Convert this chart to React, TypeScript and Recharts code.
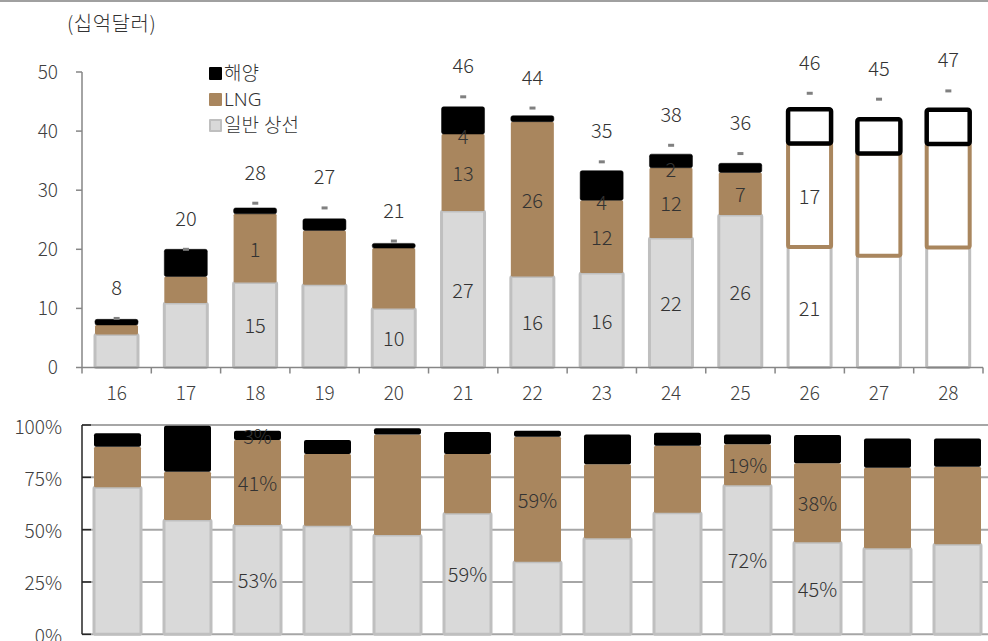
import React from 'react';
import { ComposedChart, Bar, Line, XAxis, YAxis, CartesianGrid, Cell, LabelList } from 'recharts';

const FONT = '"Noto Sans CJK KR", "Noto Sans", sans-serif';
const LEGEND_FONT = '"Noto Sans", "Noto Sans CJK KR", sans-serif';
const GRAY = '#d9d9d9';
const GRAY_EDGE = '#bfbfbf';
const BROWN = '#a9865e';
const BLACK = '#000000';
const TEXT = '#333333';

const years = ['16', '17', '18', '19', '20', '21', '22', '23', '24', '25', '26', '27', '28'];
const forecastYears = ['26', '27', '28'];

// 수주액 (십억달러)
const merchant = [5.6, 10.9, 14.4, 14.0, 10.0, 26.5, 15.4, 16.0, 21.9, 25.8, 20.4, 18.9, 20.3];
const lng = [1.6, 4.5, 11.6, 9.2, 10.2, 13.0, 26.2, 12.3, 11.9, 7.2, 17.5, 17.3, 17.5];
const offshore = [0.95, 4.6, 1.0, 1.95, 0.8, 4.6, 1.0, 5.0, 2.3, 1.55, 5.8, 5.8, 5.8];
const total = [8.3, 20.0, 27.8, 27.0, 21.4, 45.8, 43.9, 34.8, 37.6, 36.2, 46.4, 45.4, 46.8];
const totalLabels = ['8', '20', '28', '27', '21', '46', '44', '35', '38', '36', '46', '45', '47'];
const merchantLabels = ['', '', '15', '', '10', '27', '16', '16', '22', '26', '21', '', ''];
const lngLabels = ['', '', '1', '', '', '13', '26', '12', '12', '7', '17', '', ''];
const offshoreLabels = ['', '', '', '', '', '4', '', '4', '2', '', '', '', ''];

// 비중 (%)
const merchantPct = [70.2, 54.6, 52.2, 51.9, 47.4, 57.8, 34.7, 45.9, 58.1, 71.2, 44.0, 41.1, 43.0];
const lngPct = [19.4, 23.1, 40.6, 34.2, 48.1, 28.3, 59.7, 35.3, 32.0, 19.6, 37.7, 38.5, 37.1];
const offshorePct = [6.4, 22.0, 4.5, 6.7, 2.9, 10.5, 2.9, 14.3, 6.2, 4.7, 13.5, 13.9, 13.5];
const merchantPctLabels = ['', '', '53%', '', '', '59%', '', '', '', '72%', '45%', '', ''];
const lngPctLabels = ['', '', '41%', '', '', '', '59%', '', '', '19%', '38%', '', ''];
const offshorePctLabels = ['', '', '3%', '', '', '', '', '', '', '', '', '', ''];

const topTicks = [0, 10, 20, 30, 40, 50];
const pctTicks = [0, 25, 50, 75, 100];

const topData = years.map((year, i) => ({
  year,
  merchant: merchant[i],
  lng: lng[i],
  offshore: offshore[i],
  total: total[i],
  totalLabel: totalLabels[i],
  merchantLabel: merchantLabels[i],
  lngLabel: lngLabels[i],
  offshoreLabel: offshoreLabels[i],
}));

const pctData = years.map((year, i) => ({
  year,
  merchant: merchantPct[i],
  lng: lngPct[i],
  offshore: offshorePct[i],
  merchantLabel: merchantPctLabels[i],
  lngLabel: lngPctLabels[i],
  offshoreLabel: offshorePctLabels[i],
}));

const TOP_W = 988;
const TOP_LEFT = 82;
const TOP_RIGHT = 5;
const BAND = (TOP_W - TOP_LEFT - TOP_RIGHT) / years.length;

const box = (p: any) => {
  const vb = p.viewBox || {};
  return {
    x: p.x ?? vb.x ?? 0,
    y: p.y ?? vb.y ?? 0,
    width: p.width ?? vb.width ?? 0,
    height: p.height ?? vb.height ?? 0,
  };
};

const CenterLabel = (props: any) => {
  if (!props.value) return null;
  const { x, y, width, height } = box(props);
  return (
    <text x={x + width / 2} y={y + height / 2} textAnchor="middle" dominantBaseline="central"
      fontSize={20} fill={TEXT} fontFamily={FONT} fontWeight={300}>
      {props.value}
    </text>
  );
};

const BottomEdgeLabel = (props: any) => {
  if (!props.value) return null;
  const { x, y, width, height } = box(props);
  return (
    <text x={x + width / 2} y={y + height + 1} textAnchor="middle" dominantBaseline="central"
      fontSize={20} fill={TEXT} fontFamily={FONT} fontWeight={300}>
      {props.value}
    </text>
  );
};

const TotalLabel = (props: any) => {
  const { x, y } = box(props);
  return (
    <text x={x} y={y - 32} textAnchor="middle" dominantBaseline="central"
      fontSize={20} fill={TEXT} fontFamily={FONT} fontWeight={300}>
      {props.value}
    </text>
  );
};

const DashDot = (props: any) => {
  const { cx, cy } = props;
  if (cx == null || cy == null) return null;
  return <rect x={cx - 3} y={cy - 1.5} width={6} height={3} fill="#808080" />;
};

const YearTick = (props: any) => {
  const { x, y, payload, index } = props;
  const left = x - BAND / 2;
  return (
    <g>
      <line x1={left} y1={y} x2={left} y2={y + 6} stroke="#868686" strokeWidth={1.5} />
      {index === years.length - 1 && (
        <line x1={x + BAND / 2} y1={y} x2={x + BAND / 2} y2={y + 6} stroke="#868686" strokeWidth={1.5} />
      )}
      <text x={x} y={y + 24} textAnchor="middle" dominantBaseline="central"
        fontSize={19} fill="#404040" fontFamily={FONT} fontWeight={300}>
        {payload.value}
      </text>
    </g>
  );
};

const PctTick = (props: any) => {
  const { x, y, payload } = props;
  return (
    <g>
      <line x1={x} y1={y} x2={x + 9} y2={y} stroke="#262626" strokeWidth={1.5} />
      <text x={x - 20} y={y} textAnchor="end" dominantBaseline="central"
        fontSize={19} fill="#404040" fontFamily={FONT} fontWeight={300}>
        {payload.value}%
      </text>
    </g>
  );
};

const isForecast = (i: number) => forecastYears.includes(years[i]);

const legendItems = [
  { name: '해양', fill: BLACK, edge: BLACK },
  { name: 'LNG', fill: BROWN, edge: BROWN },
  { name: '일반 상선', fill: GRAY, edge: GRAY_EDGE },
];

export default function App() {
  return (
    <div style={{ position: 'absolute', left: 0, top: 0, width: 988, height: 641, overflow: 'hidden', background: '#fff', fontFamily: FONT }}>
      <div style={{ position: 'absolute', left: 0, top: 0, width: 988, height: 2, background: '#a0a0a0' }} />
      <div style={{ position: 'absolute', left: 67, top: 10, fontSize: 20, color: TEXT, fontWeight: 300, lineHeight: '26px', letterSpacing: 0.5 }}>
        (십억달러)
      </div>

      <div style={{ position: 'absolute', left: 0, top: 0 }}>
        <ComposedChart width={TOP_W} height={410} data={topData}
          margin={{ top: 72, right: TOP_RIGHT, bottom: 0, left: 0 }}>
          <XAxis dataKey="year" height={42.5} axisLine={{ stroke: '#868686', strokeWidth: 1.5 }}
            tickLine={false} tickSize={0} tickMargin={0} tick={<YearTick />} interval={0} />
          <YAxis domain={[0, 50]} ticks={topTicks} width={TOP_LEFT} interval={0}
            axisLine={{ stroke: '#868686', strokeWidth: 1.5 }} tickLine={{ stroke: '#868686', strokeWidth: 1.5 }}
            tickSize={6} tickMargin={18}
            tick={{ fontSize: 19, fill: '#404040', fontFamily: FONT, fontWeight: 300 }} />
          <Bar dataKey="merchant" stackId="a" barSize={43} radius={1.5} isAnimationActive={false}>
            {topData.map((d, i) => (
              <Cell key={`m-${d.year}`} fill={isForecast(i) ? '#ffffff' : GRAY} stroke={GRAY_EDGE} strokeWidth={3} />
            ))}
            <LabelList dataKey="merchantLabel" content={<CenterLabel />} />
          </Bar>
          <Bar dataKey="lng" stackId="a" barSize={43} radius={1.5} isAnimationActive={false}>
            {topData.map((d, i) => (
              <Cell key={`l-${d.year}`} fill={isForecast(i) ? '#ffffff' : BROWN}
                stroke={isForecast(i) ? BROWN : 'none'} strokeWidth={isForecast(i) ? 4 : 0} />
            ))}
            <LabelList dataKey="lngLabel" content={<CenterLabel />} />
          </Bar>
          <Bar dataKey="offshore" stackId="a" barSize={43} radius={2} isAnimationActive={false}>
            {topData.map((d, i) => (
              <Cell key={`o-${d.year}`} fill={isForecast(i) ? '#ffffff' : BLACK}
                stroke={BLACK} strokeWidth={isForecast(i) ? 4.5 : 0.5} />
            ))}
            <LabelList dataKey="offshoreLabel" content={<BottomEdgeLabel />} />
          </Bar>
          <Line dataKey="total" stroke="none" dot={<DashDot />} activeDot={false} isAnimationActive={false}>
            <LabelList dataKey="totalLabel" content={<TotalLabel />} />
          </Line>
        </ComposedChart>
      </div>

      <div style={{ position: 'absolute', left: 0, top: 410 }}>
        <ComposedChart width={992} height={231} data={pctData}
          margin={{ top: 15, right: 0, bottom: 6.7, left: 0 }}>
          <CartesianGrid vertical={false} stroke="#a6a6a6" strokeWidth={2} />
          <XAxis dataKey="year" height={0} tick={false} tickLine={false}
            axisLine={{ stroke: '#a6a6a6', strokeWidth: 2 }} />
          <YAxis domain={[0, 100]} ticks={pctTicks} width={TOP_LEFT} tickLine={false} interval={0}
            tickSize={0} tickMargin={0} axisLine={{ stroke: '#262626', strokeWidth: 1.5 }}
            tick={<PctTick />} />
          <Bar dataKey="merchant" stackId="p" barSize={47} radius={1.5} fill={GRAY}
            stroke={GRAY_EDGE} strokeWidth={3} isAnimationActive={false}>
            <LabelList dataKey="merchantLabel" content={<CenterLabel />} />
          </Bar>
          <Bar dataKey="lng" stackId="p" barSize={47} radius={1.5} fill={BROWN} isAnimationActive={false}>
            <LabelList dataKey="lngLabel" content={<CenterLabel />} />
          </Bar>
          <Bar dataKey="offshore" stackId="p" barSize={47} radius={2} fill={BLACK} isAnimationActive={false}>
            <LabelList dataKey="offshoreLabel" content={<CenterLabel />} />
          </Bar>
        </ComposedChart>
      </div>

      <div style={{ position: 'absolute', left: 209, top: 60, fontSize: 19, color: TEXT, fontWeight: 300, fontFamily: LEGEND_FONT }}>
        {legendItems.map((item) => (
          <div key={item.name} style={{ display: 'flex', alignItems: 'center', height: 26 }}>
            <span style={{ display: 'inline-block', width: 9, height: 9, background: item.fill, border: `2px solid ${item.edge}`, borderRadius: 1, marginRight: 2 }} />
            <span style={{ lineHeight: '26px', whiteSpace: 'nowrap' }}>{item.name}</span>
          </div>
        ))}
      </div>
    </div>
  );
}
